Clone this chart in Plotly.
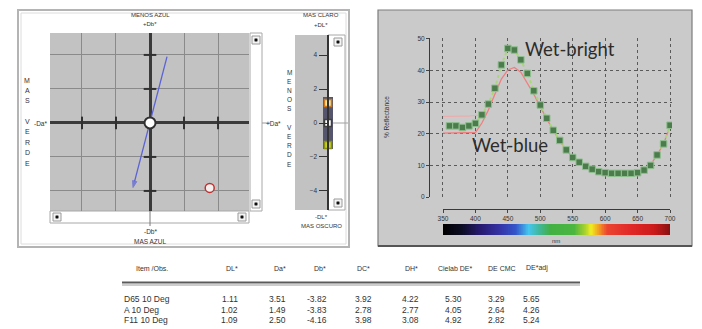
import plotly.graph_objects as go

W, H = 702, 329
FONT = "Liberation Sans"

# ---------------- data ----------------
# a*/b* colour-difference plot
center_ab = ([0.0], [0.0])
sample_da = [3.51]
sample_db = [-3.82]
hue_line_a = [1.0, -1.0]
hue_line_b = [3.9, -3.8]
ab_ticks = [-4, -2, 2, 4]

# L* strip
l_ticks = [-4, -2, 0, 2, 4]
l_bar_low, l_bar_high = -1.53, 1.53
l_markers = [1.18, 0.0, -1.3]
l_marker_fill = ["#f4e6a0", "#ffffff", "#c8d428"]
l_marker_line = ["#d07818", "#404040", "#8a9010"]

# reflectance curves
wl_bright = list(range(360, 701, 10))
wet_bright = [22.5, 22.5, 22.0, 22.5, 23.3, 26.0, 29.4, 34.4, 41.8, 47.0,
              46.5, 43.4, 39.1, 33.6, 29.1, 24.9, 21.1, 17.9, 14.9, 12.5,
              11.0, 9.7, 8.8, 8.0, 7.7, 7.5, 7.5, 7.5, 7.5, 7.7,
              8.5, 10.0, 13.3, 16.8, 22.7]
wl_blue = list(range(350, 701, 10))
wet_blue = [20.2, 20.2, 20.2, 20.2, 20.2, 20.4, 23.4, 27.5, 32.5, 37.3,
            40.2, 41.0, 39.5, 36.2, 32.5, 28.5, 24.7, 21.0, 17.8, 14.8,
            12.5, 11.0, 9.8, 8.9, 8.2, 7.9, 7.7, 7.7, 7.7, 7.7,
            7.9, 8.7, 10.2, 13.3, 16.8, 22.5]
wl_blue_alt = [350, 360, 370, 380, 390, 400, 410]
wet_blue_alt = [25.5, 25.5, 25.5, 25.5, 25.6, 25.8, 26.0]
refl_ticks = [0, 10, 20, 30, 40, 50]
nm_ticks = [350, 400, 450, 500, 550, 600, 650, 700]

# spectrum bar
spectrum_nm = [350, 378, 405, 435, 462, 482, 497, 515, 552, 568, 578, 590, 603, 640, 675, 700]
spectrum_col = ["#000000", "#0c0c22", "#24186a", "#3430a2", "#3456cc", "#44c6ee",
                "#40b8a0", "#42b044", "#4cb640", "#a4d030", "#f2ee22", "#f29a22",
                "#ec4430", "#e02828", "#cc1a1a", "#861010"]
spectrum_wl = list(range(350, 701, 1))

# table
table_cols = ["Item /Obs.", "DL*", "Da*", "Db*", "DC*", "DH*", "Cielab DE*", "DE CMC", "DE*adj"]
table_rows = ["D65 10 Deg", "A 10 Deg", "F11 10 Deg"]
table_vals = [
    ["1.11", "3.51", "-3.82", "3.92", "4.22", "5.30", "3.29", "5.65"],
    ["1.02", "1.49", "-3.83", "2.78", "2.77", "4.05", "2.64", "4.26"],
    ["1.09", "2.50", "-4.16", "3.98", "3.08", "4.92", "2.82", "5.24"],
]

# ---------------- helpers ----------------
def px(x):
    return x / W


def py(y):
    return 1 - y / H


def ann(x, y, text, size=6.5, color="#333333", xanchor="center", family=FONT, **kw):
    return dict(x=px(x), y=py(y), xref="paper", yref="paper", text=text,
                showarrow=False, xanchor=xanchor, yanchor="middle",
                font=dict(size=size, color=color, family=family), **kw)


def rect(x0, y0, x1, y1, fill="rgba(0,0,0,0)", line="#888", lw=1, layer="below"):
    return dict(type="rect", xref="paper", yref="paper", x0=px(x0), x1=px(x1),
                y0=py(y1), y1=py(y0), fillcolor=fill, line=dict(color=line, width=lw),
                layer=layer)


def line(x0, y0, x1, y1, color="#888", lw=1, layer="below"):
    return dict(type="line", xref="paper", yref="paper", x0=px(x0), x1=px(x1),
                y0=py(y0), y1=py(y1), line=dict(color=color, width=lw), layer=layer)


def button(cx, cy):
    return [rect(cx - 4, cy - 4, cx + 4, cy + 4, fill="#f4f4f4", line="#9a9a9a", lw=1),
            rect(cx - 1.2, cy - 1.2, cx + 1.2, cy + 1.2, fill="#111", line="#111", lw=0.5)]


fig = go.Figure()

# ---------------- a*/b* plot ----------------
fig.add_trace(go.Scatter(x=ab_ticks, y=[0] * len(ab_ticks), mode="markers",
                         marker=dict(symbol="line-ns", size=9, line=dict(color="#303030", width=2)),
                         xaxis="x", yaxis="y", hoverinfo="skip"))
fig.add_trace(go.Scatter(x=[0] * len(ab_ticks), y=ab_ticks, mode="markers",
                         marker=dict(symbol="line-ew", size=9, line=dict(color="#303030", width=2)),
                         xaxis="x", yaxis="y", hoverinfo="skip"))
fig.add_trace(go.Scatter(x=hue_line_a, y=hue_line_b, mode="lines+markers",
                         line=dict(color="#5a62d6", width=1.3),
                         marker=dict(symbol=["circle", "arrow"], size=[0, 7], angleref="previous",
                                     color="#5a62d6", line=dict(color="#5a62d6", width=1)),
                         xaxis="x", yaxis="y", hoverinfo="skip"))
fig.add_trace(go.Scatter(x=center_ab[0], y=center_ab[1], mode="markers",
                         marker=dict(symbol="circle", size=11, color="#ffffff",
                                     line=dict(color="#303030", width=2)),
                         xaxis="x", yaxis="y"))
fig.add_trace(go.Scatter(x=sample_da, y=sample_db, mode="markers",
                         marker=dict(symbol="circle", size=9, color="#f4f0f0",
                                     line=dict(color="#c03030", width=1.5)),
                         xaxis="x", yaxis="y"))

# ---------------- L* strip ----------------
fig.add_trace(go.Bar(x=[0.66], y=[l_bar_high - l_bar_low], base=[l_bar_low], width=0.2,
                     marker=dict(color="#55566e", line=dict(width=0)),
                     xaxis="x3", yaxis="y3", hoverinfo="skip"))
fig.add_trace(go.Scatter(x=[0.66] * len(l_markers), y=l_markers, mode="markers",
                         marker=dict(symbol="square", size=7, color=l_marker_fill,
                                     line=dict(color=l_marker_line, width=1.5)),
                         xaxis="x3", yaxis="y3"))

# ---------------- reflectance ----------------
fig.add_trace(go.Scatter(x=wl_blue_alt, y=wet_blue_alt, mode="lines",
                         line=dict(color="#f2a8a8", width=1), xaxis="x2", yaxis="y2"))
fig.add_trace(go.Scatter(x=wl_blue, y=wet_blue, mode="lines",
                         line=dict(color="#ef7f7f", width=1.3), xaxis="x2", yaxis="y2"))
fig.add_trace(go.Scatter(x=wl_bright, y=wet_bright, mode="lines+markers",
                         line=dict(color="#a8d878", width=2, dash="dot"),
                         marker=dict(symbol="square", size=6.5, color="#4c7c4c",
                                     line=dict(color="#8fc08f", width=1)),
                         xaxis="x2", yaxis="y2"))

# spectrum bar
lo, hi = spectrum_nm[0], spectrum_nm[-1]
cscale = [[(n - lo) / (hi - lo), c] for n, c in zip(spectrum_nm, spectrum_col)]
fig.add_trace(go.Heatmap(x=spectrum_wl, y=[0], z=[spectrum_wl], colorscale=cscale,
                         zmin=lo, zmax=hi, showscale=False, xaxis="x4", yaxis="y4",
                         hoverinfo="skip"))

# ---------------- layout ----------------
shapes = []
# left panel frame
shapes.append(rect(18, 10, 349, 247, line="#b4b4b4", lw=2))
shapes.append(rect(21, 13, 346, 244, line="#dcdcdc", lw=1))
# a*/b* plot background
shapes.append(rect(50, 33, 249, 211, fill="#c2c2c2", line="#c2c2c2", lw=0))
# scrollbars
shapes.append(rect(250, 33, 262, 211, fill="#ffffff", line="#a8a8a8", lw=1))
shapes.append(rect(50, 211, 249, 223, fill="#ffffff", line="#a8a8a8", lw=1))
shapes += button(256, 40) + button(256, 204) + button(57, 217) + button(242, 217)
shapes.append(line(262, 123, 270, 123, color="#9a9a9a", lw=1))
shapes.append(line(150, 211, 150, 226, color="#7a7a7a", lw=1))
# L strip background
shapes.append(rect(295, 35, 328, 210, fill="#c2c2c2", line="#c2c2c2", lw=0))
shapes.append(rect(328, 35, 345, 210, fill="#ffffff", line="#a8a8a8", lw=1))
shapes.append(line(328, 123, 348, 123, color="#a0a0a0", lw=1))
shapes += button(338, 42) + button(338, 203)
# right panel
shapes.append(rect(378, 10, 692, 246, fill="#cacaca", line="#7c7c7c", lw=1.2))
shapes.append(line(378, 246, 692, 246, color="#555555", lw=2))
# table rule
shapes.append(line(122, 282.5, 580, 282.5, color="#5a5a5a", lw=2.2, layer="above"))
shapes.append(line(122, 285, 580, 285, color="#9a9a9a", lw=1, layer="above"))

annotations = []
# a*/b* labels
annotations.append(ann(150, 15, "MENOS AZUL", size=6))
annotations.append(ann(150, 24, "+Db*", size=6))
annotations.append(ann(40, 123, "-Da*", size=6.5))
annotations.append(ann(273, 123, "+Da*", size=6.5))
annotations.append(ann(150, 231, "-Db*", size=6.5))
annotations.append(ann(150, 241, "MAS AZUL", size=6.5))
left_word = "MAS VERDE"
for i, ch in enumerate(left_word):
    if ch != " ":
        annotations.append(ann(27, 80 + i * 10.4, ch, size=7))
l_word = "MENOS VERDE"
for i, ch in enumerate(l_word):
    if ch != " ":
        annotations.append(ann(289, 72 + i * 9.2, ch, size=6.5))
annotations.append(ann(321, 15, "MAS CLARO", size=6))
annotations.append(ann(321, 25, "+DL*", size=6))
annotations.append(ann(321, 217, "-DL*", size=6))
annotations.append(ann(321, 226, "MAS OSCURO", size=6))

# reflectance labels
annotations.append(ann(570, 49, "Wet-bright", size=18.5, color="#2c2c2c", family="Lato"))
annotations.append(ann(510, 145, "Wet-blue", size=18.5, color="#2c2c2c", family="Lato"))
annotations.append(ann(386, 117, "% Reflectance", size=6.5, textangle=-90))
annotations.append(ann(556, 241, "nm", size=6))

# table
header_x = [152, 232, 280, 320, 363, 412, 455, 502, 537]
value_right = [240, 288, 329, 374, 421, 464, 507, 542]
row_y = [298.5, 309.5, 320]
for hx, htxt in zip(header_x, table_cols):
    annotations.append(ann(hx, 268, htxt, size=7))
for r, (rname, vals) in enumerate(zip(table_rows, table_vals)):
    annotations.append(ann(122, row_y[r], rname, size=8.5, xanchor="left"))
    for vx, v in zip(value_right, vals):
        annotations.append(ann(vx, row_y[r], v, size=8.5, xanchor="right"))

axis_font = dict(family=FONT, size=6.5, color="#333333")

fig.update_layout(
    width=W, height=H, margin=dict(l=0, r=0, t=0, b=0, pad=0, autoexpand=False),
    paper_bgcolor="#ffffff", plot_bgcolor="rgba(0,0,0,0)",
    showlegend=False, shapes=shapes, annotations=annotations, hovermode=False,
    xaxis=dict(domain=[px(50), px(249)], range=[-5.88, 5.82], tickvals=[-4, -2, 0, 2, 4],
               showticklabels=False, showgrid=True, gridcolor="#8a8a8a", gridwidth=1,
               zeroline=True, zerolinecolor="#3a3a3a", zerolinewidth=3, automargin=False),
    yaxis=dict(domain=[py(211), py(33)], range=[-5.18, 5.29], tickvals=[-4, -2, 0, 2, 4],
               showticklabels=False, showgrid=True, gridcolor="#8a8a8a", gridwidth=1,
               zeroline=True, zerolinecolor="#3a3a3a", zerolinewidth=3, automargin=False),
    xaxis3=dict(domain=[px(295), px(345)], range=[0, 1], visible=False, anchor="y3",
                automargin=False),
    yaxis3=dict(domain=[py(210), py(35)], range=[-5.12, 5.18], tickvals=l_ticks,
                anchor="free", position=px(327.5), side="left", showline=True,
                linecolor="#333333", linewidth=2, ticks="outside", ticklen=8,
                tickcolor="#333333", showgrid=False, zeroline=False, tickfont=axis_font,
                automargin=False),
    xaxis2=dict(domain=[px(430), px(672)], range=[330, 703], tickvals=nm_ticks,
                showticklabels=False, showgrid=True, gridcolor="#5a5a5a", griddash="dot",
                gridwidth=1, zeroline=False, anchor="y2", automargin=False),
    yaxis2=dict(domain=[py(197), py(38)], range=[0, 50.3], tickvals=refl_ticks,
                showgrid=True, gridcolor="#5a5a5a", griddash="dot", gridwidth=1,
                zeroline=False, showline=True, linecolor="#3a3a3a", linewidth=1,
                ticks="outside", ticklen=3, tickfont=axis_font, anchor="x2",
                automargin=False),
    xaxis4=dict(domain=[px(443), px(670)], range=[350, 700], tickvals=nm_ticks,
                anchor="free", position=py(209), showline=True, linecolor="#3a3a3a",
                linewidth=1, ticks="outside", ticklen=3, tickfont=axis_font,
                showgrid=False, zeroline=False, automargin=False),
    yaxis4=dict(domain=[py(235), py(224)], range=[-0.5, 0.5], visible=False, anchor="x4",
                automargin=False),
)

fig.write_html("out.html", config={"displayModeBar": False, "staticPlot": True},
               post_script="document.body.style.margin='0';document.body.style.padding='0';")
